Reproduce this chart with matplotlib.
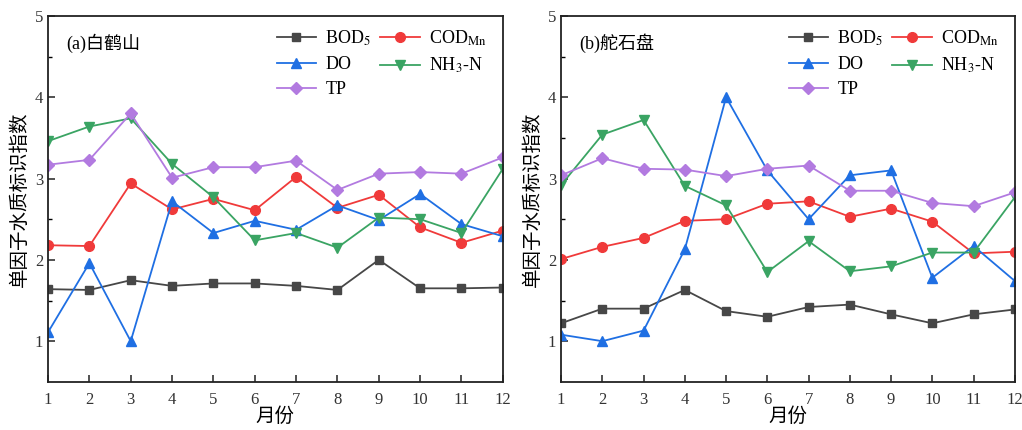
import matplotlib
matplotlib.use('Agg')
import matplotlib.pyplot as plt
import numpy as np

plt.rcParams['font.family'] = ['Liberation Serif', 'Noto Sans CJK SC']
plt.rcParams['mathtext.fontset'] = 'stix'

months = np.arange(1, 13)

# (a) 白鹤山
bhs_bod = [1.64, 1.63, 1.75, 1.68, 1.71, 1.71, 1.68, 1.63, 2.00, 1.65, 1.65, 1.66]
bhs_cod = [2.18, 2.17, 2.94, 2.62, 2.75, 2.61, 3.02, 2.64, 2.80, 2.40, 2.21, 2.36]
bhs_do = [1.11, 1.96, 1.00, 2.72, 2.33, 2.48, 2.37, 2.67, 2.49, 2.81, 2.44, 2.29]
bhs_nh3 = [3.46, 3.64, 3.74, 3.18, 2.77, 2.24, 2.33, 2.15, 2.52, 2.50, 2.33, 3.12]
bhs_tp = [3.17, 3.23, 3.80, 3.01, 3.14, 3.14, 3.22, 2.86, 3.06, 3.08, 3.06, 3.26]

# (b) 舵石盘
dsp_bod = [1.22, 1.40, 1.40, 1.63, 1.37, 1.30, 1.42, 1.45, 1.33, 1.22, 1.33, 1.39]
dsp_cod = [2.01, 2.16, 2.27, 2.48, 2.50, 2.69, 2.72, 2.53, 2.63, 2.47, 2.08, 2.10]
dsp_do = [1.08, 1.00, 1.13, 2.13, 4.00, 3.10, 2.50, 3.04, 3.10, 1.78, 2.17, 1.74]
dsp_nh3 = [2.92, 3.54, 3.72, 2.91, 2.67, 1.85, 2.23, 1.86, 1.92, 2.09, 2.09, 2.77]
dsp_tp = [3.04, 3.25, 3.12, 3.11, 3.03, 3.12, 3.16, 2.85, 2.85, 2.70, 2.66, 2.83]

names = ['BOD$_5$', 'COD$_{\\mathrm{Mn}}$', 'DO', 'NH$_3$-N', 'TP']
colors = ['#474747', '#f03a3a', '#1f6fe3', '#3aa463', '#b27ae0']
markers = ['s', 'o', '^', 'v', 'D']
msizes = [6, 7, 7.5, 7.5, 6.5]

fig = plt.figure(figsize=(10.22, 4.30), dpi=100)
ax1 = fig.add_axes([0.047, 0.112, 0.445, 0.851])
ax2 = fig.add_axes([0.549, 0.112, 0.444, 0.851])

panels = [(ax1, '(a)白鹤山', [bhs_bod, bhs_cod, bhs_do, bhs_nh3, bhs_tp]),
          (ax2, '(b)舵石盘', [dsp_bod, dsp_cod, dsp_do, dsp_nh3, dsp_tp])]

for ax, title, series in panels:
    handles = []
    for vals, name, c, m, ms in zip(series, names, colors, markers, msizes):
        h, = ax.plot(months, vals, color=c, marker=m, markersize=ms, lw=1.3, label=name)
        handles.append(h)
    ax.set_xlim(1, 12)
    ax.set_ylim(0.5, 5)
    ax.set_xticks(months)
    ax.set_yticks([1, 2, 3, 4, 5])
    ax.set_yticks(np.arange(1.5, 5, 1), minor=True)
    ax.tick_params(direction='in', length=5, width=1.2, labelsize=12, colors='#333333')
    ax.tick_params(which='minor', direction='in', length=3, width=1.0)
    ax.tick_params(axis='x', pad=7)
    for sp in ax.spines.values():
        sp.set_linewidth(1.3)
        sp.set_color('#222222')
    ax.set_xlabel('月份', fontsize=14, labelpad=0)
    ax.set_ylabel('单因子水质标识指数', fontsize=14, labelpad=4)
    ax.text(0.04, 0.925, title, transform=ax.transAxes, fontsize=13, va='center')
    order = [0, 2, 4, 1, 3]
    ax.legend([handles[i] for i in order], [names[i] for i in order], ncol=2,
              loc='upper right', bbox_to_anchor=(1.0, 1.01), frameon=False,
              fontsize=13, handlelength=2.2, columnspacing=0.5, handletextpad=0.5,
              labelspacing=0.45)

fig.savefig('out.png', dpi=100)
